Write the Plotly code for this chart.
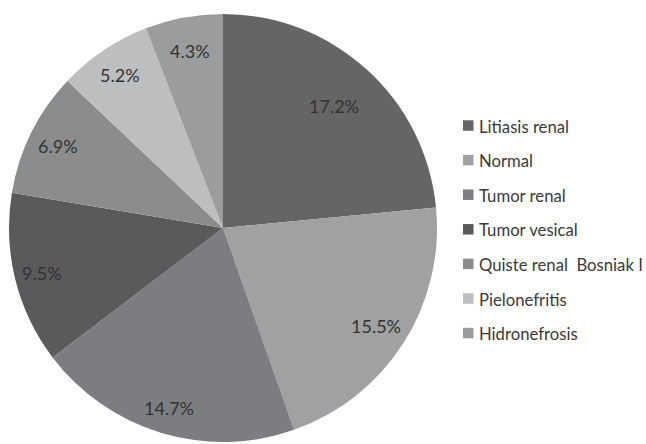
import math
import plotly.graph_objects as go

labels = ["Litiasis renal", "Normal", "Tumor renal", "Tumor vesical",
          "Quiste renal  Bosniak I", "Pielonefritis", "Hidronefrosis"]
values = [17.2, 15.5, 14.7, 9.5, 6.9, 5.2, 4.3]
colors = ["#656565", "#a0a1a3", "#7c7d80", "#5a5a5c", "#8b8c8e", "#bdbec0", "#9b9c9e"]
text_labels = [f"{v}%" for v in values]
# radial position of each data label (fraction of radius), layout only
label_radius = [0.77, 0.85, 0.88, 0.87, 0.86, 0.86, 0.84]

W, H = 646, 444
cx, cy, R = 223, 228, 214

fig = go.Figure()
fig.add_trace(go.Pie(
    labels=labels, values=values, text=text_labels,
    textinfo="none",
    sort=False, direction="clockwise", rotation=0,
    marker=dict(colors=colors, line=dict(width=0)),
    domain=dict(x=[(cx - R) / W, (cx + R) / W], y=[(H - cy - R) / H, (H - cy + R) / H]),
    showlegend=False, hoverinfo="label+text",
))

# data labels placed at the mid-angle of each slice
total = sum(values)
cum = 0.0
for v, t, fr in zip(values, text_labels, label_radius):
    mid = (cum + v / 2) / total * 2 * math.pi
    cum += v
    px = cx + fr * R * math.sin(mid)
    py = cy - fr * R * math.cos(mid)
    fig.add_annotation(xref="paper", yref="paper", x=px / W, y=1 - py / H,
                       text=t, showarrow=False, xanchor="center", yanchor="middle",
                       font=dict(family="Lato, sans-serif", size=18, color="#333333"))

# legend drawn manually (equal spacing as in reference)
lx0, ly0, dy, sq = 463, 125.5, 34.6, 10.5
for i, (lab, col) in enumerate(zip(labels, colors)):
    yc = ly0 + i * dy
    fig.add_shape(type="rect", xref="paper", yref="paper",
                  x0=lx0 / W, x1=(lx0 + sq) / W,
                  y0=1 - (yc + sq / 2) / H, y1=1 - (yc - sq / 2) / H,
                  fillcolor=col, line=dict(width=0))
    fig.add_annotation(xref="paper", yref="paper", x=(lx0 + sq + 3) / W, y=1 - (yc + 1) / H,
                       text=lab, showarrow=False, xanchor="left", yanchor="middle",
                       font=dict(family="Lato, sans-serif", size=16.7, color="#3a3a3a"))

fig.update_layout(width=W, height=H, margin=dict(l=0, r=0, t=0, b=0),
                  paper_bgcolor="white", plot_bgcolor="white")
fig.write_html("out.html", config={"displayModeBar": False},
               post_script="document.body.style.margin='0';")
